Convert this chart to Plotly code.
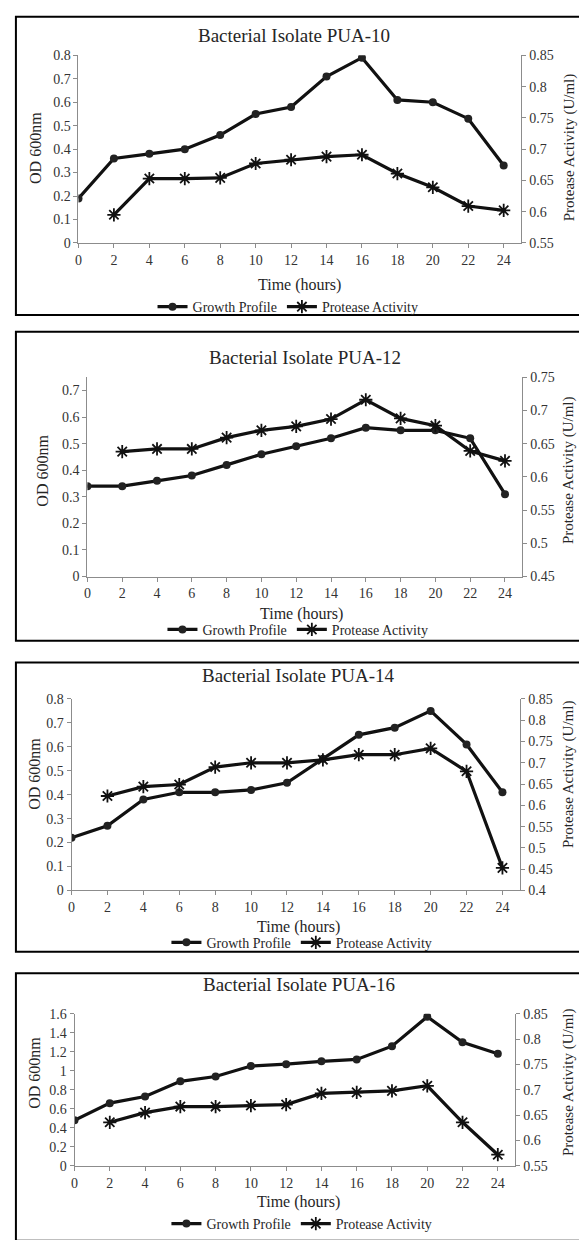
import plotly.graph_objects as go

W, H = 579, 1240

hours = [0, 2, 4, 6, 8, 10, 12, 14, 16, 18, 20, 22, 24]
prot_hours = [2, 4, 6, 8, 10, 12, 14, 16, 18, 20, 22, 24]
tick_hours = [0, 2, 4, 6, 8, 10, 12, 14, 16, 18, 20, 22, 24]

titles = ["Bacterial Isolate PUA-10", "Bacterial Isolate PUA-12",
          "Bacterial Isolate PUA-14", "Bacterial Isolate PUA-16"]

growth_pua10 = [0.19, 0.36, 0.38, 0.40, 0.46, 0.55, 0.58, 0.71, 0.79, 0.61, 0.60, 0.53, 0.33]
protease_pua10 = [0.595, 0.653, 0.653, 0.654, 0.677, 0.683, 0.688, 0.691, 0.661, 0.639, 0.609, 0.602]

growth_pua12 = [0.34, 0.34, 0.36, 0.38, 0.42, 0.46, 0.49, 0.52, 0.56, 0.55, 0.55, 0.52, 0.31]
protease_pua12 = [0.638, 0.642, 0.642, 0.659, 0.670, 0.676, 0.687, 0.716, 0.688, 0.677, 0.639, 0.624]

growth_pua14 = [0.22, 0.27, 0.38, 0.41, 0.41, 0.42, 0.45, 0.55, 0.65, 0.68, 0.75, 0.61, 0.41]
protease_pua14 = [0.622, 0.644, 0.649, 0.690, 0.700, 0.700, 0.707, 0.719, 0.719, 0.734, 0.680, 0.453]

growth_pua16 = [0.48, 0.66, 0.73, 0.89, 0.94, 1.05, 1.07, 1.10, 1.12, 1.26, 1.57, 1.30, 1.18]
protease_pua16 = [0.636, 0.655, 0.667, 0.667, 0.669, 0.671, 0.693, 0.695, 0.698, 0.708, 0.636, 0.572]

left_ranges = [[0, 0.8], [0, 0.75], [0, 0.8], [0, 1.6]]
left_dticks = [0.1, 0.1, 0.1, 0.2]
right_ranges = [[0.55, 0.85], [0.45, 0.75], [0.40, 0.85], [0.55, 0.85]]
right_dtick = 0.05
x_range = [0, 25]

growth_all = [growth_pua10, growth_pua12, growth_pua14, growth_pua16]
protease_all = [protease_pua10, protease_pua12, protease_pua14, protease_pua16]

# layout geometry in pixels
plot_boxes = [  # x0, x1, ytop, ybottom
    (75, 521, 49, 239),
    (84, 522, 375, 577),
    (68, 520, 701, 895),
    (71, 515, 1020, 1174),
]
borders = [(10, 312), (329, 642), (664, 957), (979, 1250)]
title_pos = [(292, 29), (303, 355), (297, 677), (297, 990)]
time_pos = [(298, 282), (300, 615), (297, 932), (297, 1211)]
legend_pos = [(286, 304), (296, 631), (300, 948), (300, 1233)]
ltitle_pos = [(31, 143), (39, 470), (31, 777), (30, 1080)]
rtitle_pos = [(569, 143), (569, 470), (569, 778), (569, 1090)]


def px(x):
    return x / W


def py(y):
    return 1 - y / H


FONT = "Liberation Serif, Times New Roman, serif"
AXC = "#8c8c8c"
TXT = "#262626"

fig = go.Figure()
layout = dict(width=W, height=H, margin=dict(l=0, r=0, t=0, b=0),
              paper_bgcolor="white", plot_bgcolor="white",
              font=dict(family=FONT, color=TXT, size=14), shapes=[], annotations=[])

for i in range(4):
    xa = "x" if i == 0 else f"x{i + 1}"
    ya_l = f"y{2 * i + 1}" if i > 0 else "y"
    ya_r = f"y{2 * i + 2}"
    lg = "legend" if i == 0 else f"legend{i + 1}"
    x0, x1, yt, yb = plot_boxes[i]

    fig.add_trace(go.Scatter(
        x=hours, y=growth_all[i], name="Growth Profile", mode="lines+markers",
        line=dict(color="#111", width=3.2),
        marker=dict(symbol="circle", size=8, color="#222"),
        xaxis=xa, yaxis=ya_l, legend=lg))
    fig.add_trace(go.Scatter(
        x=prot_hours, y=protease_all[i], name="Protease Activity", mode="lines+markers",
        line=dict(color="#111", width=3.2),
        marker=dict(symbol="asterisk-open", size=11, color="#111", line=dict(width=1.8, color="#111")),
        xaxis=xa, yaxis=ya_r, legend=lg))

    xkey = "xaxis" if i == 0 else f"xaxis{i + 1}"
    ylkey = "yaxis" if i == 0 else f"yaxis{2 * i + 1}"
    yrkey = f"yaxis{2 * i + 2}"
    ylname = "y" if i == 0 else f"y{2 * i + 1}"

    tickfont = dict(size=14, family=FONT, color="#333")
    layout[xkey] = dict(domain=[px(x0), px(x1)], anchor=ylname, range=x_range,
                        tickvals=tick_hours, showline=True, linecolor=AXC, linewidth=1,
                        ticks="outside", ticklen=4, tickcolor=AXC, showgrid=False,
                        zeroline=False, tickfont=tickfont)
    layout[ylkey] = dict(domain=[py(yb), py(yt)], anchor=xa, range=left_ranges[i],
                         dtick=left_dticks[i], tick0=0, showline=True, linecolor=AXC,
                         linewidth=1, ticks="outside", ticklen=4, tickcolor=AXC,
                         showgrid=False, zeroline=False, tickfont=tickfont)
    layout[yrkey] = dict(domain=[py(yb), py(yt)], anchor=xa, overlaying=ylname, side="right",
                         range=right_ranges[i], dtick=right_dtick, tick0=0, showline=True,
                         linecolor=AXC, linewidth=1, ticks="outside", ticklen=4,
                         tickcolor=AXC, showgrid=False, zeroline=False, tickfont=tickfont)

    lx, lyy = legend_pos[i]
    layout[lg] = dict(orientation="h", x=px(lx), y=py(lyy), xanchor="center", yanchor="middle",
                      font=dict(size=14, family=FONT, color=TXT), bgcolor="rgba(0,0,0,0)",
                      itemwidth=30, tracegroupgap=0)

    b0, b1 = borders[i]
    layout["shapes"].append(dict(type="rect", xref="paper", yref="paper",
                                 x0=px(12), x1=px(600), y0=py(b1), y1=py(b0),
                                 line=dict(color="black", width=2)))

    tx, ty = title_pos[i]
    layout["annotations"].append(dict(text=titles[i], x=px(tx), y=py(ty), xref="paper",
                                      yref="paper", showarrow=False, xanchor="center",
                                      yanchor="middle", font=dict(size=19, family=FONT, color=TXT)))
    tx, ty = time_pos[i]
    layout["annotations"].append(dict(text="Time (hours)", x=px(tx), y=py(ty), xref="paper",
                                      yref="paper", showarrow=False, xanchor="center",
                                      yanchor="middle", font=dict(size=16, family=FONT, color=TXT)))
    tx, ty = ltitle_pos[i]
    layout["annotations"].append(dict(text="OD 600nm", x=px(tx), y=py(ty), xref="paper",
                                      yref="paper", showarrow=False, xanchor="center",
                                      yanchor="middle", textangle=-90,
                                      font=dict(size=16, family=FONT, color=TXT)))
    tx, ty = rtitle_pos[i]
    layout["annotations"].append(dict(text="Protease Activity (U/ml)", x=px(tx), y=py(ty),
                                      xref="paper", yref="paper", showarrow=False,
                                      xanchor="center", yanchor="middle", textangle=-90,
                                      font=dict(size=15, family=FONT, color=TXT)))

fig.update_layout(**layout)
fig.write_html("out.html", config={"displayModeBar": False, "staticPlot": True},
               post_script="document.body.style.margin='0';document.body.style.overflow='hidden';")
